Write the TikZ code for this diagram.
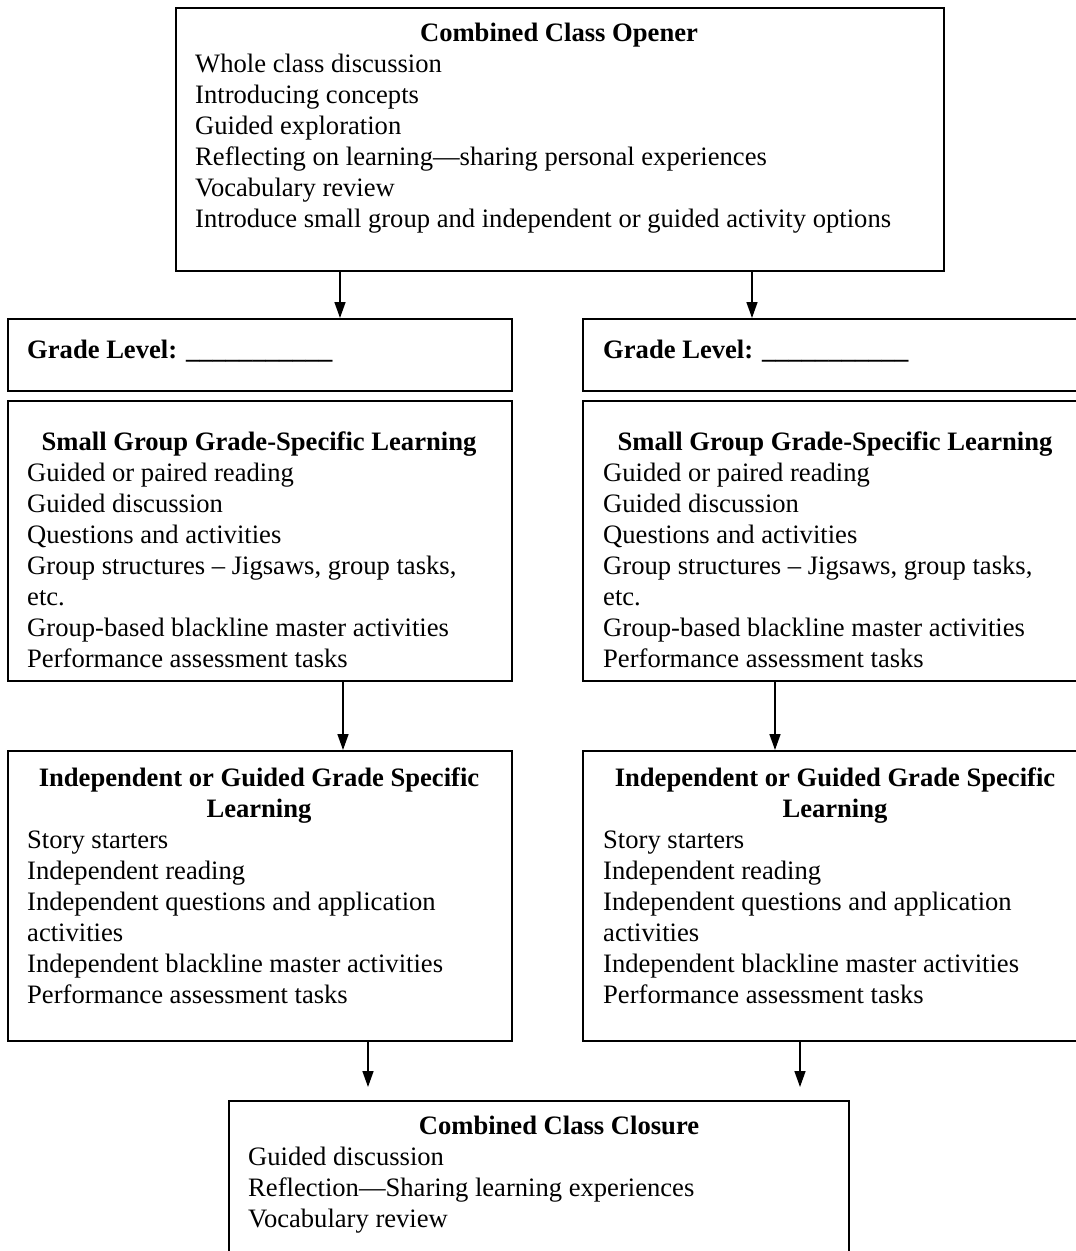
\documentclass[tikz,border=0pt]{standalone}
\usepackage{fontspec}
\setmainfont{Liberation Serif}
\usetikzlibrary{arrows.meta}
\tikzset{
  box/.style={draw, line width=2pt, rectangle, inner sep=0pt, anchor=north west},
  txt/.style={anchor=base west, inner sep=0pt, font=\fontsize{26.6}{31}\selectfont},
  ttl/.style={anchor=base, inner sep=0pt, font=\fontsize{26.6}{31}\selectfont\bfseries},
  arr/.style={line width=1.5pt, -{Triangle[length=16pt,width=11pt]}}
}
\begin{document}
\begin{tikzpicture}[x=1pt,y=-1pt]
\useasboundingbox (0,0) rectangle (1076,1251);

% boxes
\node[box, minimum width=768pt, minimum height=263pt] (op) at (175,7) {};
\node[box, minimum width=504pt, minimum height=72pt] (gl) at (7,318) {};
\node[box, minimum width=504pt, minimum height=72pt] (gr) at (582,318) {};
\node[box, minimum width=504pt, minimum height=280pt] (sl) at (7,400) {};
\node[box, minimum width=504pt, minimum height=280pt] (sr) at (582,400) {};
\node[box, minimum width=504pt, minimum height=290pt] (il) at (7,750) {};
\node[box, minimum width=504pt, minimum height=290pt] (ir) at (582,750) {};
\node[box, minimum width=620pt, minimum height=200pt] (cl) at (228,1100) {};

% opener text
\node[ttl] (opt) at (559,41) {Combined Class Opener};
\foreach \t [count=\i] in {Whole class discussion, Introducing concepts, Guided exploration, Reflecting on learning---sharing personal experiences, Vocabulary review, Introduce small group and independent or guided activity options}
  \node[txt] (op\i) at (195,{41+31*\i}) {\t};

% grade level
\node[txt, font=\fontsize{26.6}{31}\selectfont\bfseries] (glt) at (27,358) {Grade Level: \_\_\_\_\_\_\_\_\_\_\_};
\node[txt, font=\fontsize{26.6}{31}\selectfont\bfseries] (grt) at (603,358) {Grade Level: \_\_\_\_\_\_\_\_\_\_\_};

% small group
\foreach \x/\c/\n in {27/259/sl, 603/835/sr} {
  \node[ttl] (\n t) at (\c,450) {Small Group Grade-Specific Learning};
  \foreach \t [count=\i] in {Guided or paired reading, Guided discussion, Questions and activities, Group structures -- Jigsaws{,} group tasks{,}, etc., Group-based blackline master activities, Performance assessment tasks}
    \node[txt] (\n\i) at (\x,{450+31*\i}) {\t};
}

% independent
\foreach \x/\c/\n in {27/259/il, 603/835/ir} {
  \node[ttl] (\n ta) at (\c,786) {Independent or Guided Grade Specific};
  \node[ttl] (\n tb) at (\c,817) {Learning};
  \foreach \t [count=\i] in {Story starters, Independent reading, Independent questions and application, activities, Independent blackline master activities, Performance assessment tasks}
    \node[txt] (\n\i) at (\x,{817+31*\i}) {\t};
}

% closure
\node[ttl] (clt) at (559,1134) {Combined Class Closure};
\foreach \t [count=\i] in {Guided discussion, Reflection---Sharing learning experiences, Vocabulary review}
  \node[txt] (cl\i) at (248,{1134+31*\i}) {\t};

% arrows
\draw[arr] ([xshift=165pt]op.south west) -- ([xshift=165pt]op.south west |- gl.north);
\draw[arr] ([xshift=577pt]op.south west) -- ([xshift=577pt]op.south west |- gr.north);
\draw[arr] ([xshift=336pt]sl.south west) -- ([xshift=336pt]sl.south west |- il.north);
\draw[arr] ([xshift=193pt]sr.south west) -- ([xshift=193pt]sr.south west |- ir.north);
\coordinate (e1) at (368,1087);
\coordinate (e2) at (800,1087);
\draw[arr] (il.south west -| e1) -- (e1);
\draw[arr] (ir.south west -| e2) -- (e2);
\end{tikzpicture}
\end{document}
